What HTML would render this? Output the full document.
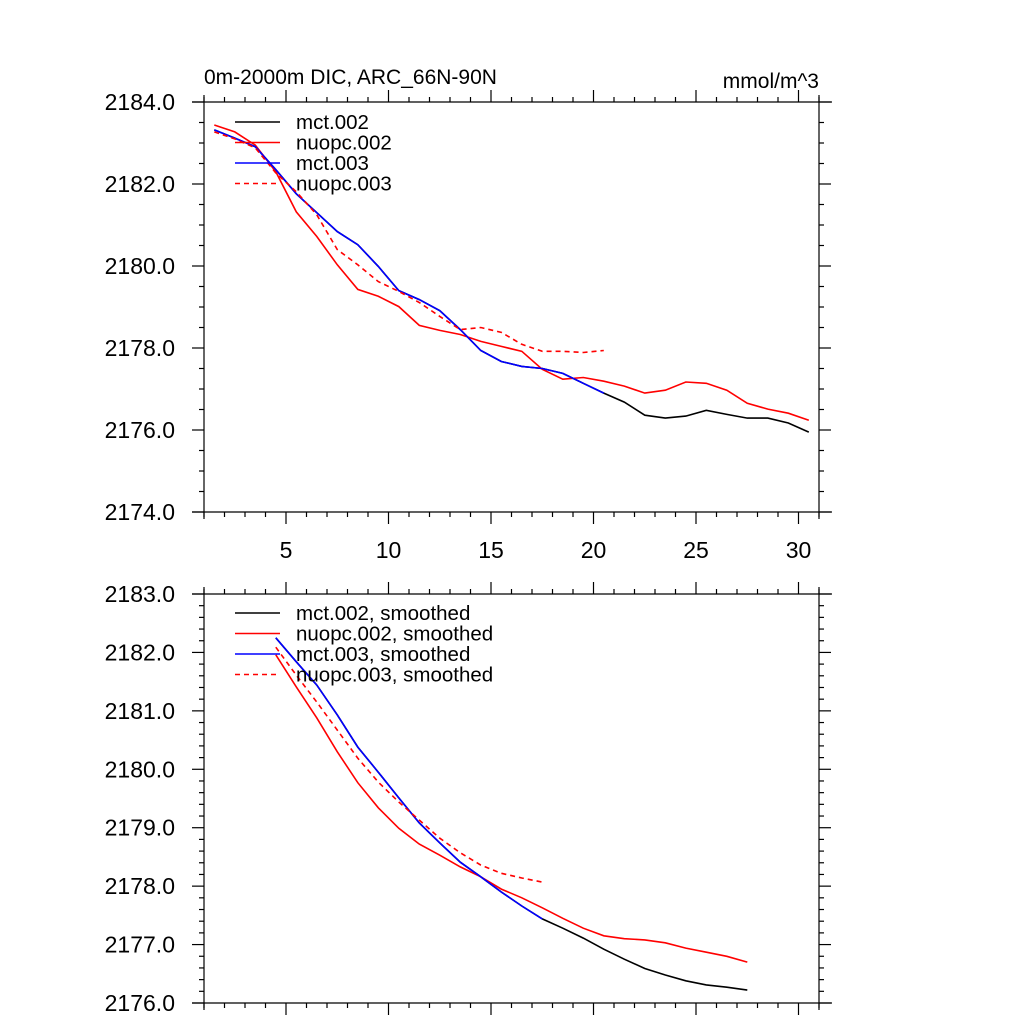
<!DOCTYPE html>
<html><head><meta charset="utf-8"><style>
html,body{margin:0;padding:0;background:#fff;}
svg{display:block;font-family:"Liberation Sans",Arial,sans-serif;}
</style></head><body>
<svg id="chart" width="1024" height="1024" viewBox="0 0 1024 1024" xmlns="http://www.w3.org/2000/svg">
<text x="204" y="84" font-size="21">0m-2000m DIC, ARC_66N-90N</text>
<text x="819" y="88" font-size="21" text-anchor="end">mmol/m^3</text>
<g id="top"></g>
<g id="bot"></g>
</svg>
<script>
// ---- data ----
const xTop = [1.5,2.5,3.5,4.5,5.5,6.5,7.5,8.5,9.5,10.5,11.5,12.5,13.5,14.5,15.5,16.5,17.5,18.5,19.5,20.5,21.5,22.5,23.5,24.5,25.5,26.5,27.5,28.5,29.5,30.5];
const mct002 = [2183.32,2183.12,2182.91,2182.35,2181.76,2181.30,2180.84,2180.52,2179.99,2179.40,2179.18,2178.91,2178.45,2177.94,2177.67,2177.55,2177.50,2177.38,2177.14,2176.90,2176.68,2176.36,2176.29,2176.34,2176.48,2176.38,2176.29,2176.29,2176.17,2175.95];
const nuopc002 = [2183.44,2183.27,2182.95,2182.30,2181.32,2180.72,2180.03,2179.43,2179.26,2179.01,2178.55,2178.43,2178.33,2178.16,2178.04,2177.92,2177.48,2177.24,2177.28,2177.19,2177.07,2176.90,2176.97,2177.17,2177.14,2176.97,2176.65,2176.51,2176.41,2176.24];
const mct003 = [2183.32,2183.12,2182.91,2182.35,2181.76,2181.30,2180.84,2180.52,2179.99,2179.40,2179.18,2178.91,2178.45,2177.94,2177.67,2177.55,2177.50,2177.38,2177.14,2176.90];
const nuopc003 = [2183.27,2183.10,2182.88,2182.27,2181.81,2181.25,2180.40,2180.03,2179.62,2179.38,2179.11,2178.77,2178.45,2178.50,2178.38,2178.09,2177.92,2177.92,2177.89,2177.94];
const xBot = [4.5,5.5,6.5,7.5,8.5,9.5,10.5,11.5,12.5,13.5,14.5,15.5,16.5,17.5,18.5,19.5,20.5,21.5,22.5,23.5,24.5,25.5,26.5,27.5];
const mct002s = [2182.25,2181.84,2181.44,2180.93,2180.38,2179.95,2179.51,2179.08,2178.74,2178.41,2178.16,2177.90,2177.66,2177.44,2177.28,2177.11,2176.92,2176.75,2176.59,2176.48,2176.38,2176.31,2176.27,2176.22];
const nuopc002s = [2181.96,2181.41,2180.88,2180.30,2179.77,2179.34,2178.99,2178.72,2178.53,2178.33,2178.16,2177.95,2177.80,2177.63,2177.45,2177.28,2177.15,2177.10,2177.08,2177.03,2176.94,2176.87,2176.80,2176.70];
const mct003s = [2182.25,2181.84,2181.44,2180.93,2180.38,2179.95,2179.51,2179.08,2178.74,2178.41,2178.16,2177.90,2177.66,2177.44];
const nuopc003s = [2182.09,2181.61,2181.15,2180.67,2180.19,2179.78,2179.44,2179.13,2178.82,2178.57,2178.36,2178.22,2178.14,2178.07];
const xTickLabels = ["5","10","15","20","25","30"];
const yTopLabels = ["2174.0","2176.0","2178.0","2180.0","2182.0","2184.0"];
const yBotLabels = ["2176.0","2177.0","2178.0","2179.0","2180.0","2181.0","2182.0","2183.0"];
const legendTop = ["mct.002","nuopc.002","mct.003","nuopc.003"];
const legendBot = ["mct.002, smoothed","nuopc.002, smoothed","mct.003, smoothed","nuopc.003, smoothed"];

const NS="http://www.w3.org/2000/svg";
const L=204,R=819,X0=1,X1=31;
function sx(x){return L+(x-X0)/(X1-X0)*(R-L);}
function mk(tag,attrs,parent){const e=document.createElementNS(NS,tag);for(const k in attrs)e.setAttribute(k,attrs[k]);parent.appendChild(e);return e;}

function panel(g,top,bot,ymin,ymax,ymaj,ymin2,ylabels,showX,series,legend,legY){
  const sy=v=>bot-(v-ymin)/(ymax-ymin)*(bot-top);
  const ax={stroke:"#000","stroke-width":1.2};
  let e;
  e=mk("line",Object.assign({x1:L-12,y1:bot,x2:R+13,y2:bot},ax),g);
  
  
  e=mk("line",Object.assign({x1:L-12,y1:top,x2:R+13,y2:top},ax),g);
  
  
  e=mk("line",Object.assign({x1:L,y1:top-7,x2:L,y2:bot+7},ax),g);
  
  
  e=mk("line",Object.assign({x1:R,y1:top-7,x2:R,y2:bot+7},ax),g);
  
  
  for(let x=X0;x<=X1;x++){
    const len=(x%5===0)?12:5, px=sx(x);
    mk("line",Object.assign({x1:px,y1:bot,x2:px,y2:bot+len},ax),g);
    mk("line",Object.assign({x1:px,y1:top,x2:px,y2:top-len},ax),g);
  }
  if(showX){
    xTickLabels.forEach(t=>{
      const tl=mk("text",{x:sx(+t),y:bot+46,"font-size":23,"text-anchor":"middle"},g);
      tl.textContent=t;
      
      
    });
  }
  const n=Math.round((ymax-ymin)/ymin2);
  for(let i=0;i<=n;i++){
    const v=ymin+i*ymin2, py=sy(v);
    const major=Math.abs(((v-ymin)/ymaj)-Math.round((v-ymin)/ymaj))<1e-6;
    const len=major?12:5;
    mk("line",Object.assign({x1:L,y1:py,x2:L-len,y2:py},ax),g);
    mk("line",Object.assign({x1:R,y1:py,x2:R+len,y2:py},ax),g);
  }
  ylabels.forEach(t=>{
    const tl=mk("text",{x:L-29,y:sy(+t)+8,"font-size":23,"text-anchor":"end"},g);
    tl.textContent=t;
    
    
  });
  series.forEach(s=>{
    const pts=s.y.map((v,i)=>sx(s.x[i]).toFixed(1)+","+sy(v).toFixed(1)).join(" ");
    const p=mk("polyline",{points:pts,fill:"none",stroke:s.c,"stroke-width":1.6,"stroke-dasharray":s.d||"none"},g);
    
    
  });
  legend.forEach((t,i)=>{
    const y=legY+i*20.5;
    const s=series[i];
    const ln=mk("line",{x1:235,y1:y,x2:280,y2:y,stroke:s.c,"stroke-width":1.6,"stroke-dasharray":s.d||"none"},g);
    
    
    const tx=mk("text",{x:296,y:y+7,"font-size":20.5},g);
    tx.textContent=t;
    
    
  });
}
const xT20 = xTop.slice(0,20), xB14 = xBot.slice(0,14);
panel(document.getElementById("top"),102,512,2174,2184,2,0.5,yTopLabels,true,[
  {x:xTop,y:mct002,c:"#000",name:"line-mct002"},
  {x:xTop,y:nuopc002,c:"#ff0000",name:"line-nuopc002"},
  {x:xT20,y:mct003,c:"#0000ff",name:"line-mct003"},
  {x:xT20,y:nuopc003,c:"#ff0000",d:"5,4",name:"line-nuopc003"}
],legendTop,122);
panel(document.getElementById("bot"),594,1003,2176,2183,1,0.2,yBotLabels,false,[
  {x:xBot,y:mct002s,c:"#000",name:"line-mct002-smoothed"},
  {x:xBot,y:nuopc002s,c:"#ff0000",name:"line-nuopc002-smoothed"},
  {x:xB14,y:mct003s,c:"#0000ff",name:"line-mct003-smoothed"},
  {x:xB14,y:nuopc003s,c:"#ff0000",d:"5,4",name:"line-nuopc003-smoothed"}
],legendBot,613);
</script>
</body></html>
